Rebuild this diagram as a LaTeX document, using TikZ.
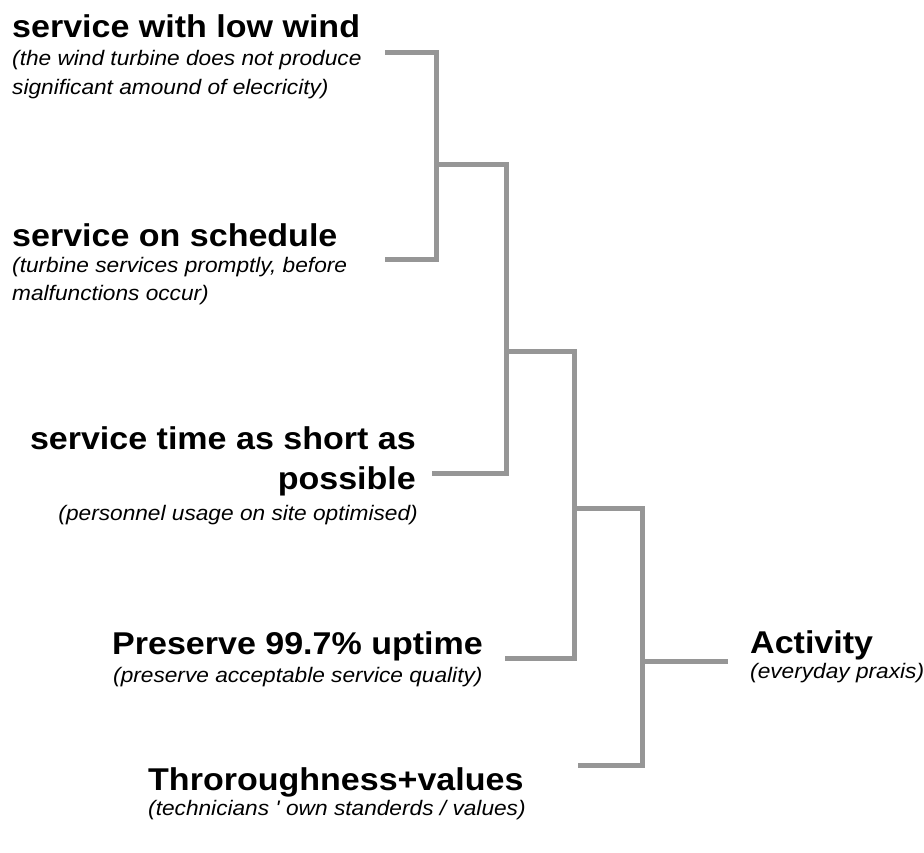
\documentclass[tikz,border=0pt]{standalone}
\usepackage{fontspec}
\setmainfont{Liberation Sans}
\newfontfamily\headfont[FakeStretch=1.08]{Liberation Sans}
\definecolor{bargray}{RGB}{150,150,150}
\newcommand{\headsize}{\headfont\bfseries\fontsize{31.5}{36}\selectfont}
\newcommand{\notesize}{\headfont\itshape\fontsize{21}{29}\selectfont}

\begin{document}
\begin{tikzpicture}[x=1pt,y=-1pt,
    head/.style={inner sep=0pt,font=\headsize},
    note/.style={inner sep=0pt,font=\notesize},
    bar/.style={draw=bargray,line width=5pt}]
    \path[use as bounding box] (0,0) rectangle (924,852);
    % goals on the left
    \node[head,anchor=base west] (low) at (12,37) {service with low wind};
    \node[note,anchor=base west] (low-a) at (12,65) {(the wind turbine does not produce};
    \node[note,anchor=base west] (low-b) at (12,94) {significant amound of elecricity)};
    \node[head,anchor=base west] (sched) at (12,246) {service on schedule};
    \node[note,anchor=base west] (sched-a) at (12,272) {(turbine services promptly, before};
    \node[note,anchor=base west] (sched-b) at (12,300) {malfunctions occur)};
    \node[head,anchor=base east] (short) at (416,449) {service time as short as};
    \node[head,anchor=base east] (short-b) at (416,489) {possible};
    \node[note,anchor=base east] (short-c) at (418,520) {(personnel usage on site optimised)};
    \node[head,anchor=base west] (uptime) at (112,654) {Preserve 99.7\% uptime};
    \node[note,anchor=base west] (uptime-a) at (113,682) {(preserve acceptable service quality)};
    \node[head,anchor=base west] (values) at (148,790) {Throroughness+values};
    \node[note,anchor=base west] (values-a) at (148,815) {(technicians ' own standerds / values)};
    \node[head,anchor=base west] (act) at (750,653) {Activity};
    \node[note,anchor=base west] (act-a) at (750,678) {(everyday praxis)};
    % bracket ends and forks
    \coordinate (low-end) at (385,52);
    \coordinate (sched-end) at (385,259);
    \coordinate (short-end) at (432,473);
    \coordinate (uptime-end) at (505,658);
    \coordinate (values-end) at (578,765);
    \coordinate (act-end) at (728,661);
    \coordinate (fork1) at (436,164);
    \coordinate (fork2) at (506,351);
    \coordinate (fork3) at (574,508);
    \coordinate (fork4) at (642,661);
    \draw[bar] (low-end) -| (fork1) |- (sched-end);
    \draw[bar] (fork1) -| (fork2) |- (short-end);
    \draw[bar] (fork2) -| (fork3) |- (uptime-end);
    \draw[bar] (fork3) -| (fork4) |- (values-end);
    \draw[bar] (fork4) -- (act-end);
\end{tikzpicture}
\end{document}
